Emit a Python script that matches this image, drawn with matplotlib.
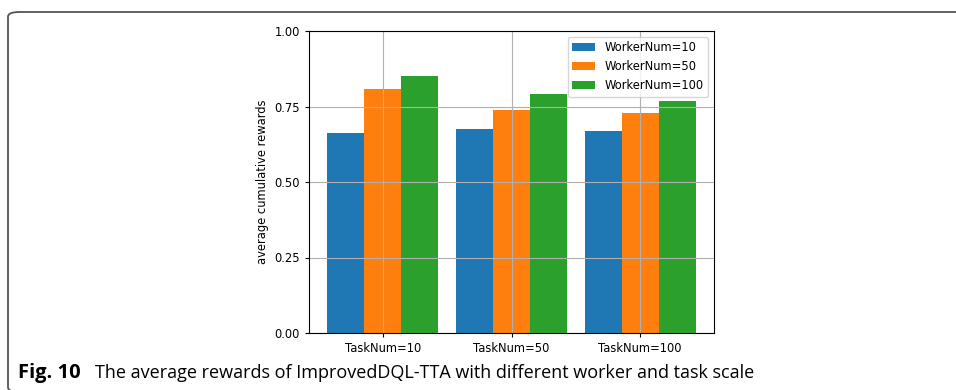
import matplotlib
matplotlib.use("Agg")
import matplotlib.pyplot as plt
import numpy as np
from matplotlib.patches import FancyBboxPatch

# Data
task_labels = ["TaskNum=10", "TaskNum=50", "TaskNum=100"]
series_names = ["WorkerNum=10", "WorkerNum=50", "WorkerNum=100"]
worker10 = [0.662, 0.675, 0.669]
worker50 = [0.808, 0.738, 0.728]
worker100 = [0.851, 0.791, 0.768]
yticks = [0.00, 0.25, 0.50, 0.75, 1.00]
caption_bold = "Fig. 10"
caption_text = "The average rewards of ImprovedDQL-TTA with different worker and task scale"

W, H = 956, 390
fig = plt.figure(figsize=(W / 100, H / 100), dpi=100)

# Frame around the figure panel (rounded corners, right and bottom run off the page)
frame = FancyBboxPatch((8 / W, -2 / H), (W + 40) / W, (H - 12 + 2) / H,
                       boxstyle="round,pad=0,rounding_size=0.012",
                       transform=fig.transFigure, fill=False,
                       edgecolor="#555555", linewidth=1.3, clip_on=False)
fig.patches.append(frame)

ax = fig.add_axes([309 / W, 1 - 333 / H, (714 - 309) / W, (333 - 31) / H])

x = np.arange(len(task_labels))
w = 0.287
colors = ["#1f77b4", "#ff7f0e", "#2ca02c"]
for i, (vals, name) in enumerate(zip([worker10, worker50, worker100], series_names)):
    ax.bar(x + (i - 1) * w, vals, width=w, color=colors[i], label=name)

fs = 8.3
ax.set_ylim(0, 1.0)
ax.set_yticks(yticks)
ax.set_yticklabels([f"{v:.2f}" for v in yticks])
ax.set_xticks(x)
ax.set_xticklabels(task_labels)
ax.tick_params(labelsize=fs, length=3)
ax.set_ylabel("average cumulative rewards", fontsize=fs)
ax.grid(True)
ax.legend(loc="upper right", fontsize=fs)

fig.text(18 / W, 1 - 373 / H, caption_bold, fontsize=14.5, fontweight="bold",
         family="Open Sans", va="center", ha="left")
fig.text(95 / W, 1 - 373 / H, caption_text, fontsize=13,
         family="Open Sans", va="center", ha="left")

fig.savefig("out.png", dpi=100)
